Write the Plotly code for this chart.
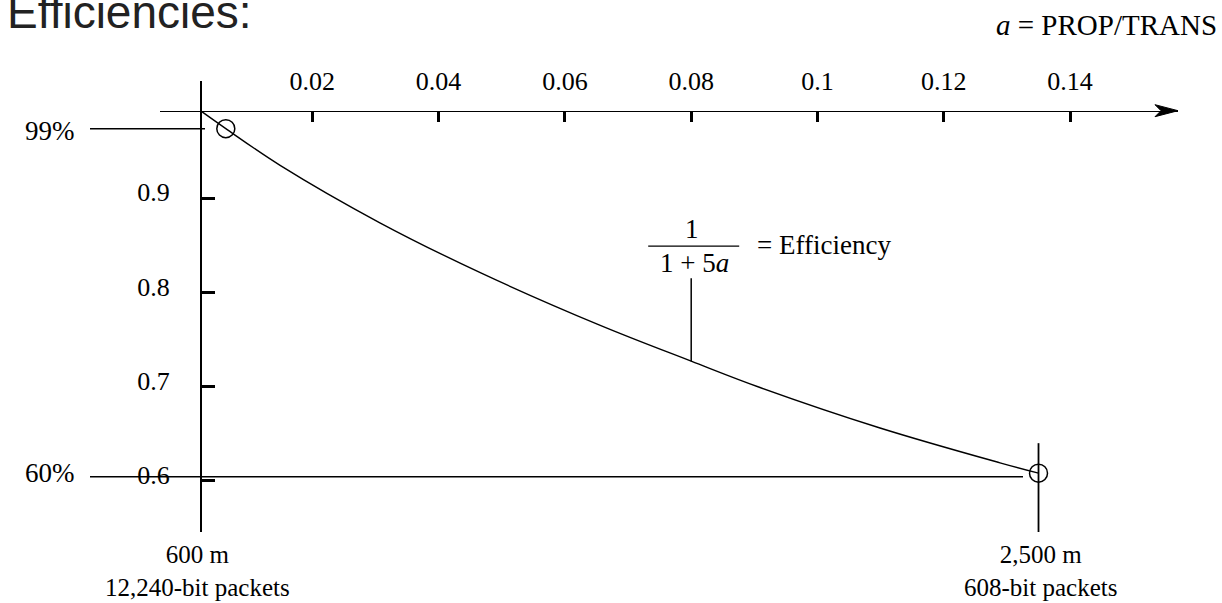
import plotly.graph_objects as go

# ---- data ----
a_vals = [0.0025, 0.0063, 0.0149, 0.0307, 0.0466, 0.0656, 0.0800, 0.0909, 0.1099, 0.1289, 0.1350]
eff_vals = [0.992, 0.974, 0.935, 0.874, 0.821, 0.765, 0.727, 0.699, 0.656, 0.619, 0.608]

point_a = [0.0063, 0.1350]
point_eff = [0.974, 0.608]
point_pct = ["99%", "60%"]
point_dist = ["600 m", "2,500 m"]
point_pkt = ["12,240-bit packets", "608-bit packets"]

x_ticks = [0.02, 0.04, 0.06, 0.08, 0.10, 0.12, 0.14]
x_tick_labels = ["0.02", "0.04", "0.06", "0.08", "0.1", "0.12", "0.14"]
y_ticks = [0.6, 0.7, 0.8, 0.9]
y_tick_labels = ["0.6", "0.7", "0.8", "0.9"]

label_a = 0.080
label_eff = 0.727

# ---- layout geometry ----
W, H = 1222, 603
SERIF = "Liberation Serif, Times New Roman, serif"
SANS = "Liberation Sans, Arial, sans-serif"


def px(x):
    return x / W


def py(y):
    return 1 - y / H


x_range = [-0.00412, 0.15709]
y_range = [0.5455, 1.0246]
TXT = 27
BAR = 115  # fraction bar height above the curve point, px

fig = go.Figure()

fig.add_trace(go.Scatter(
    x=a_vals, y=eff_vals, mode="lines",
    line=dict(color="black", width=1.4, shape="spline", smoothing=1.0),
    hoverinfo="skip", showlegend=False,
))

fig.add_trace(go.Scatter(
    x=point_a, y=point_eff, mode="markers",
    marker=dict(symbol="circle-open", size=18, color="black", line=dict(width=1.5, color="black")),
    hoverinfo="skip", showlegend=False,
))

shapes = []
# 99% guide line (left point)
shapes.append(dict(type="line", xref="paper", yref="y",
                   x0=px(90), x1=px(205), y0=point_eff[0], y1=point_eff[0],
                   line=dict(color="black", width=1.5)))
# 60% guide line (right point)
shapes.append(dict(type="line", xref="paper", yref="y", ysizemode="pixel", yanchor=point_eff[1],
                   x0=px(90), x1=px(1023), y0=-3.7, y1=-3.7,
                   line=dict(color="black", width=1.5)))
# vertical marker line at right point
shapes.append(dict(type="line", xref="x", yref="y", ysizemode="pixel", yanchor=point_eff[1],
                   x0=point_a[1], x1=point_a[1], y0=-59, y1=30,
                   line=dict(color="black", width=1.8)))
# leader line for formula label
shapes.append(dict(type="line", xref="x", yref="y", ysizemode="pixel", yanchor=label_eff,
                   x0=label_a, x1=label_a, y0=0, y1=83,
                   line=dict(color="black", width=1.5)))
# fraction bar
shapes.append(dict(type="line", xref="x", yref="y", xsizemode="pixel", xanchor=label_a,
                   ysizemode="pixel", yanchor=label_eff,
                   x0=-43, x1=48, y0=BAR, y1=BAR,
                   line=dict(color="black", width=1.3)))
# arrow head on the a axis
shapes.append(dict(type="path", xref="x", yref="paper", xsizemode="pixel", xanchor=x_range[1],
                   ysizemode="pixel", yanchor=py(110.7),
                   path="M 0 0 L -23 6 L -17 0 L -23 -6 Z",
                   fillcolor="black", line=dict(color="black", width=1)))

ann = []
# title (clipped at the left/top edge, as in the reference)
ann.append(dict(text="Efficiencies:", xref="paper", yref="paper", x=px(254), y=py(12),
                xanchor="right", yanchor="middle", showarrow=False,
                font=dict(family=SANS, size=46, color="#222")))
ann.append(dict(text="<i>a</i> = PROP/TRANS", xref="paper", yref="paper", x=px(1219), y=py(25),
                xanchor="right", yanchor="middle", showarrow=False,
                font=dict(family=SERIF, size=29, color="black")))
# percentage labels
ann.append(dict(text=point_pct[0], xref="paper", yref="y", x=px(77), y=point_eff[0], yshift=-2,
                xanchor="right", yanchor="middle", showarrow=False,
                font=dict(family=SERIF, size=TXT, color="black")))
ann.append(dict(text=point_pct[1], xref="paper", yref="y", x=px(77), y=point_eff[1], yshift=0,
                xanchor="right", yanchor="middle", showarrow=False,
                font=dict(family=SERIF, size=TXT, color="black")))
# bottom labels (distance + packet size)
ann.append(dict(text=point_dist[0] + "<br>" + point_pkt[0], xref="paper", yref="paper",
                x=px(198), y=py(571), xanchor="center", yanchor="middle", showarrow=False,
                font=dict(family=SERIF, size=25, color="black")))
ann.append(dict(text=point_dist[1] + "<br>" + point_pkt[1], xref="x", yref="paper",
                x=point_a[1], xshift=2, y=py(571), xanchor="center", yanchor="middle", showarrow=False,
                font=dict(family=SERIF, size=25, color="black")))
# formula label: numerator above the bar, denominator below it
ann.append(dict(text="1", xref="x", yref="y", x=label_a, y=label_eff, xshift=1, yshift=BAR + 1,
                xanchor="center", yanchor="bottom", showarrow=False, borderpad=0,
                font=dict(family=SERIF, size=TXT, color="black")))
ann.append(dict(text="1 + 5<i>a</i>", xref="x", yref="y", x=label_a, y=label_eff, xshift=3, yshift=BAR - 1,
                xanchor="center", yanchor="top", showarrow=False, borderpad=0,
                font=dict(family=SERIF, size=TXT, color="black")))
ann.append(dict(text="= Efficiency", xref="x", yref="y", x=label_a, y=label_eff, xshift=64, yshift=BAR + 1,
                xanchor="left", yanchor="middle", showarrow=False,
                font=dict(family=SERIF, size=TXT, color="black")))

fig.update_layout(
    width=W, height=H,
    margin=dict(l=0, r=0, t=0, b=0),
    paper_bgcolor="white", plot_bgcolor="white",
    showlegend=False,
    shapes=shapes, annotations=ann,
    xaxis=dict(
        domain=[px(160), px(1178)], range=x_range,
        anchor="free", position=py(110.7), side="top",
        showline=True, linecolor="black", linewidth=1.6,
        showgrid=False, zeroline=False,
        tickmode="array", tickvals=x_ticks, ticktext=x_tick_labels,
        ticks="inside", ticklen=10, tickwidth=3, tickcolor="black",
        ticklabelstandoff=10,
        tickfont=dict(family=SERIF, size=26, color="black"),
        automargin=False, fixedrange=True,
    ),
    yaxis=dict(
        domain=[py(532), py(81)], range=y_range,
        anchor="free", position=px(200), side="left",
        showline=True, linecolor="black", linewidth=1.6,
        showgrid=False, zeroline=False,
        tickmode="array", tickvals=y_ticks, ticktext=y_tick_labels,
        ticks="inside", ticklen=13, tickwidth=3, tickcolor="black",
        ticklabelstandoff=25, ticklabelshift=-6,
        tickfont=dict(family=SERIF, size=26, color="black"),
        automargin=False, fixedrange=True,
    ),
)

fig.write_html(
    "out.html",
    config={"displayModeBar": False, "staticPlot": True},
    post_script="document.body.style.margin='0';document.body.style.overflow='hidden';",
)
